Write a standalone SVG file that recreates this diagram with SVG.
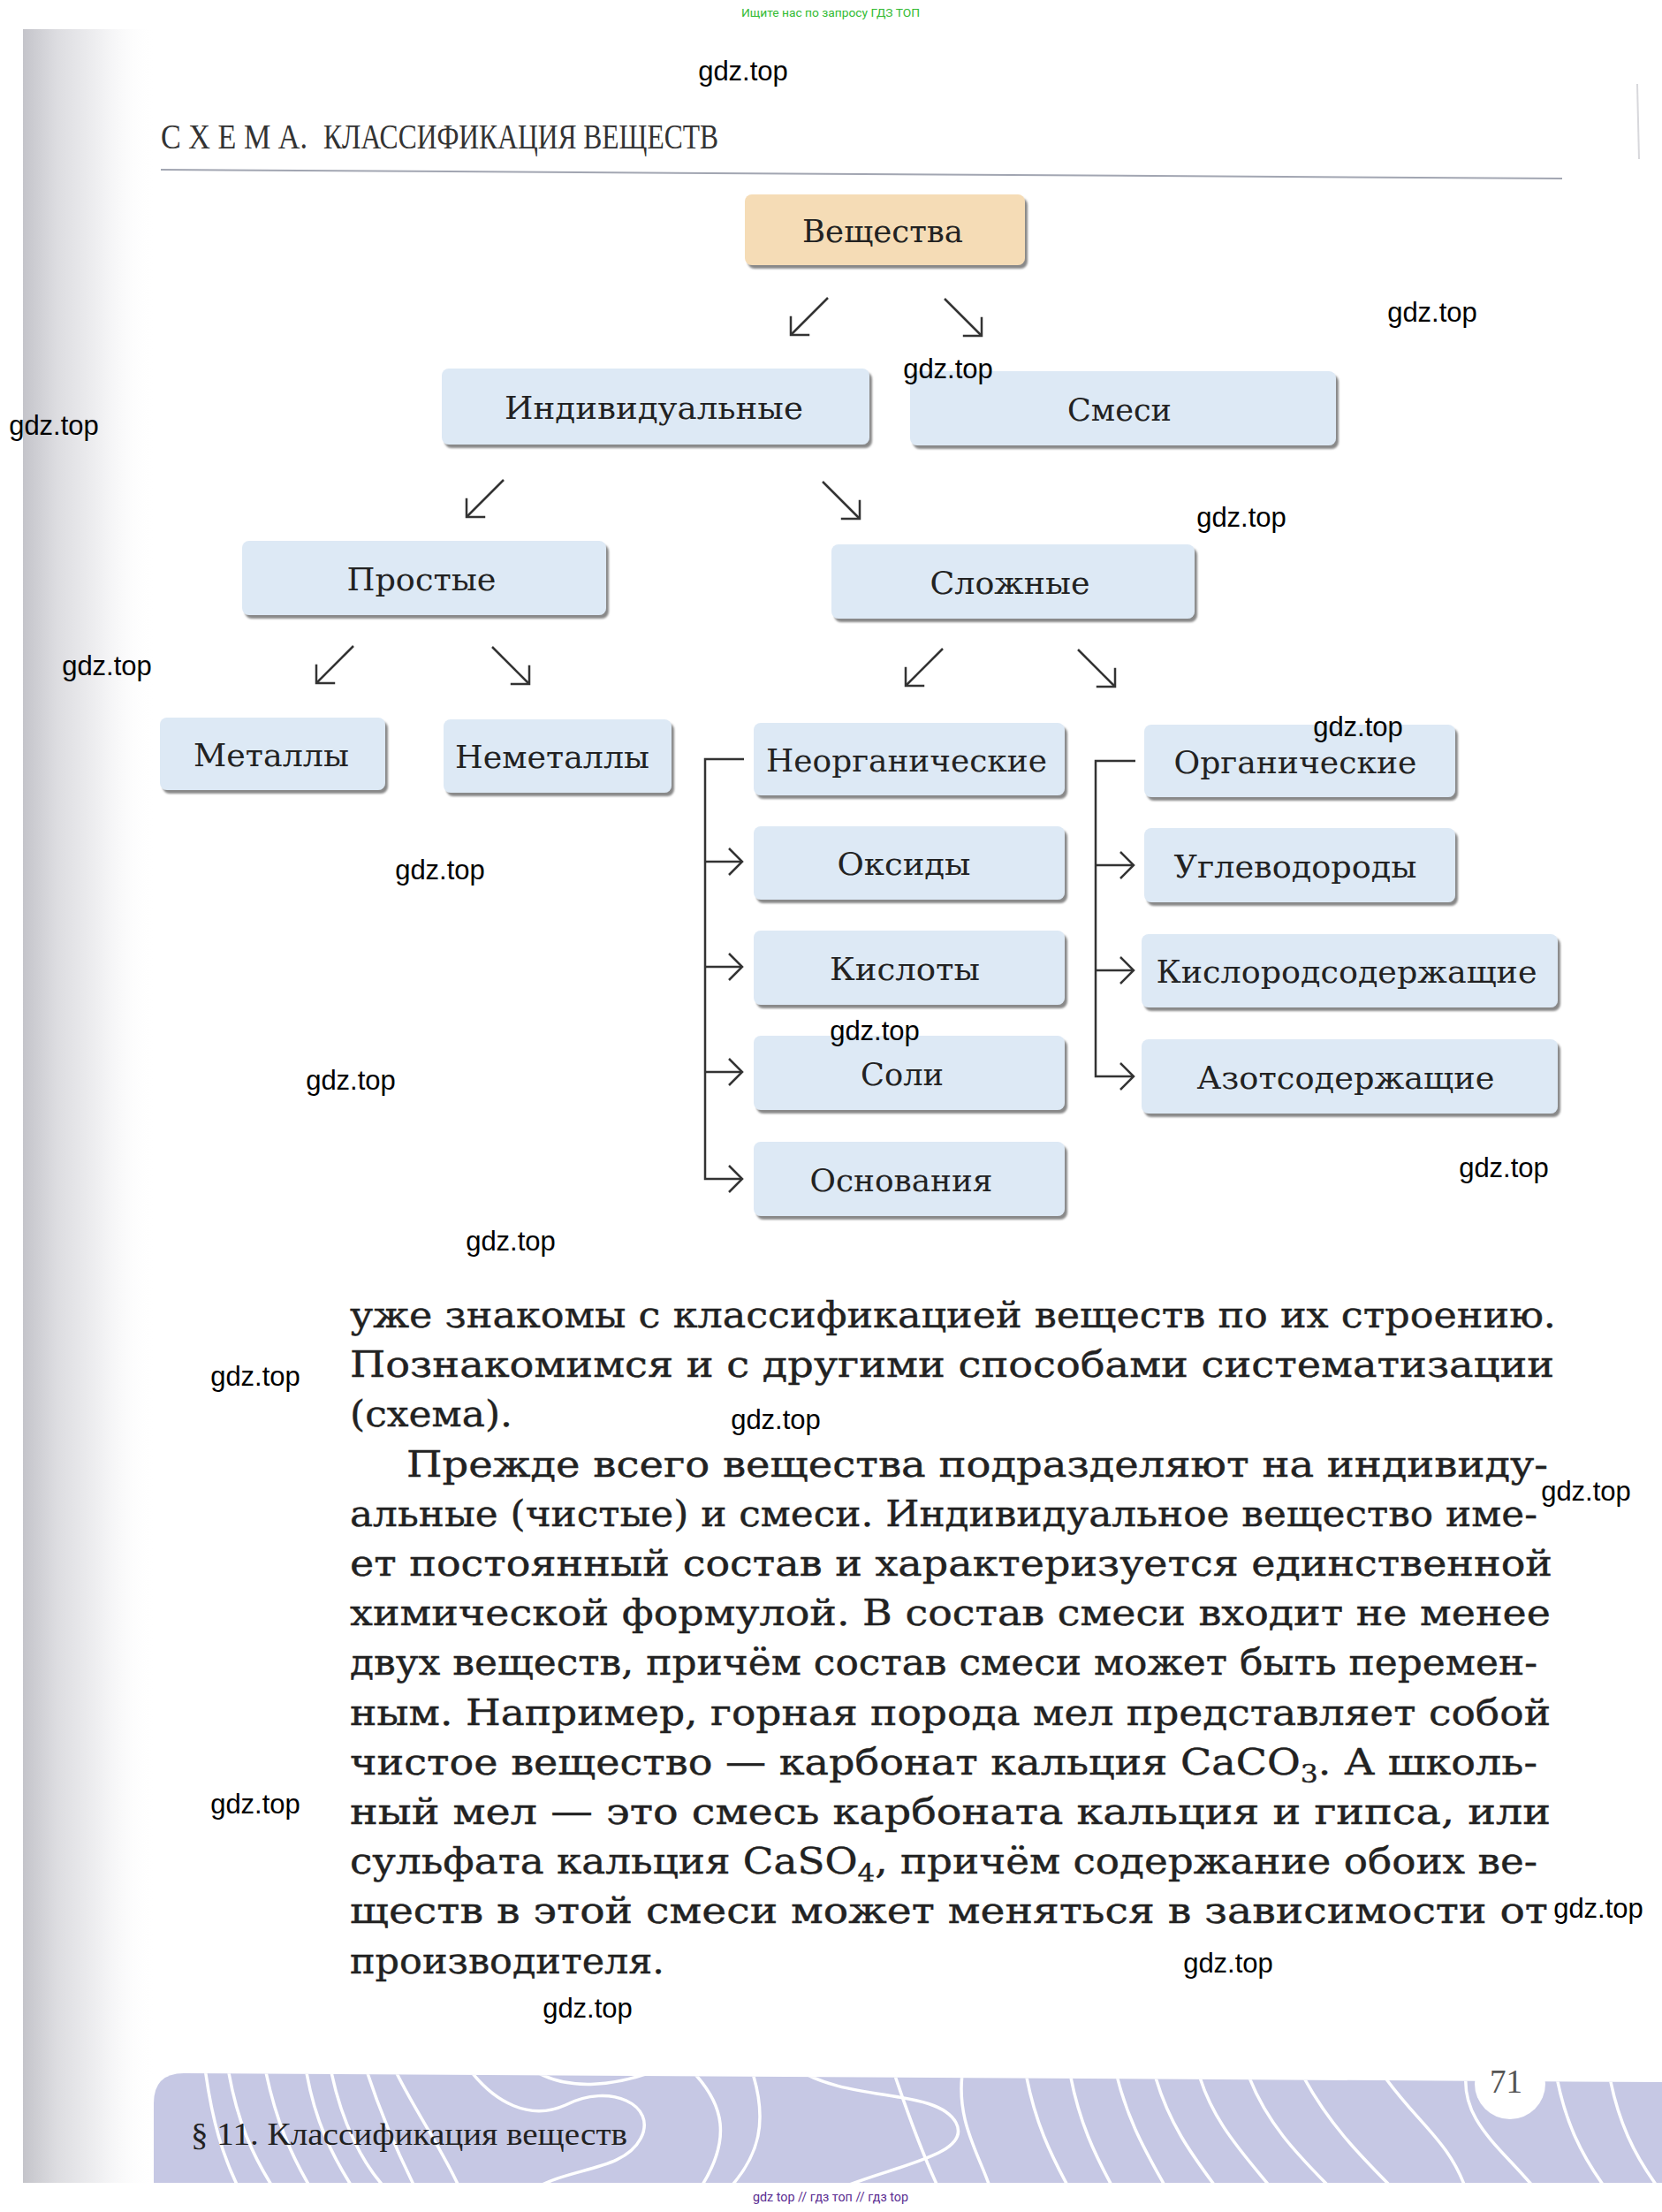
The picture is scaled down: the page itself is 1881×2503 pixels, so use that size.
<svg xmlns="http://www.w3.org/2000/svg" width="1881" height="2503" viewBox="0 0 1881 2503">
<defs>
<style>
.box{fill:#dde9f5;filter:url(#sh)}
.box0{fill:#f5dcb6;filter:url(#sh)}
.lbl{font-family:"DejaVu Serif","Liberation Serif",serif;font-size:36px;fill:#222;text-anchor:middle}
.body{font-family:"DejaVu Serif","Liberation Serif",serif;font-size:41px;fill:#222;stroke:#222;stroke-width:0.4}
.wm{font-family:"Liberation Sans",Arial,sans-serif;font-size:31px;fill:#000;text-anchor:middle}
.conn{stroke:#333;stroke-width:2.5;fill:none}
.wave{stroke:#fff;stroke-width:3.5;fill:none}
</style>
<filter id="sh" x="-5%" y="-10%" width="115%" height="130%">
<feDropShadow dx="3" dy="4" stdDeviation="1.3" flood-color="#6a6a6a" flood-opacity="0.8"/>
</filter>
<marker id="ah" markerUnits="userSpaceOnUse" markerWidth="40" markerHeight="40" viewBox="-20 -20 40 40" refX="0" refY="0" orient="auto" overflow="visible">
<path d="M-15,-15 L0,0 L-15,15" fill="none" stroke="#333" stroke-width="2.5"/>
</marker>
<linearGradient id="edge" x1="0" y1="0" x2="1" y2="0">
<stop offset="0" stop-color="#c4c4ca"/>
<stop offset="0.25" stop-color="#dcdce0"/>
<stop offset="0.6" stop-color="#f1f1f3"/>
<stop offset="1" stop-color="#ffffff" stop-opacity="0"/>
</linearGradient>
<clipPath id="bandclip"><path d="M174,2470 V2380 Q174,2346 208,2346 L1881,2356 V2470 Z"/></clipPath>
</defs>
<rect x="0" y="0" width="1881" height="2503" fill="#fff"/>
<rect x="26" y="33" width="150" height="2437" fill="url(#edge)"/>
<line x1="1853" y1="95" x2="1855" y2="180" stroke="#d8d8dc" stroke-width="2"/>

<text x="839" y="19" font-family="Roboto,'Liberation Sans',sans-serif" font-size="12" fill="#33bb33" textLength="202" lengthAdjust="spacingAndGlyphs">Ищите нас по запросу ГДЗ ТОП</text>

<g id="title">
<text x="182" y="168" font-family="'Liberation Serif',serif" font-size="39" fill="#333" textLength="166" lengthAdjust="spacingAndGlyphs">С Х Е М А.</text>
<text x="366" y="168" font-family="'Liberation Serif',serif" font-size="39" fill="#333" textLength="447" lengthAdjust="spacingAndGlyphs">КЛАССИФИКАЦИЯ ВЕЩЕСТВ</text>
<line x1="182" y1="192" x2="1768" y2="202" stroke="#a2a6b2" stroke-width="2"/>
</g>

<g id="connectors">
<path class="conn" d="M937,337 L895,379" marker-end="url(#ah)"/>
<path class="conn" d="M1069,338 L1111,380" marker-end="url(#ah)"/>
<path class="conn" d="M570,543 L528,585" marker-end="url(#ah)"/>
<path class="conn" d="M931,545 L973,587" marker-end="url(#ah)"/>
<path class="conn" d="M400,731 L358,773" marker-end="url(#ah)"/>
<path class="conn" d="M557,732 L599,774" marker-end="url(#ah)"/>
<path class="conn" d="M1067,734 L1025,776" marker-end="url(#ah)"/>
<path class="conn" d="M1220,735 L1262,777" marker-end="url(#ah)"/>
<path class="conn" d="M842,859 H798 V1334 H840" marker-end="url(#ah)"/>
<path class="conn" d="M798,975 H840" marker-end="url(#ah)"/>
<path class="conn" d="M798,1094 H840" marker-end="url(#ah)"/>
<path class="conn" d="M798,1213 H840" marker-end="url(#ah)"/>
<path class="conn" d="M1285,861 H1240 V1218 H1283" marker-end="url(#ah)"/>
<path class="conn" d="M1240,979 H1283" marker-end="url(#ah)"/>
<path class="conn" d="M1240,1098 H1283" marker-end="url(#ah)"/>
</g>

<g id="n-veshchestva"><rect class="box0" x="843" y="220" width="317" height="80" rx="8"/><text class="lbl" x="999" y="274" textLength="182" lengthAdjust="spacingAndGlyphs">Вещества</text></g>
<g id="n-individ"><rect class="box" x="500" y="417" width="484" height="86" rx="8"/><text class="lbl" x="740" y="474" textLength="338" lengthAdjust="spacingAndGlyphs">Индивидуальные</text></g>
<g id="n-smesi"><rect class="box" x="1030" y="420" width="482" height="84" rx="8"/><text class="lbl" x="1267" y="476" textLength="118" lengthAdjust="spacingAndGlyphs">Смеси</text></g>
<g id="n-prostye"><rect class="box" x="274" y="612" width="412" height="84" rx="8"/><text class="lbl" x="477" y="668" textLength="169" lengthAdjust="spacingAndGlyphs">Простые</text></g>
<g id="n-slozhnye"><rect class="box" x="941" y="616" width="411" height="84" rx="8"/><text class="lbl" x="1143" y="672" textLength="181" lengthAdjust="spacingAndGlyphs">Сложные</text></g>
<g id="n-metally"><rect class="box" x="181" y="812" width="255" height="82" rx="8"/><text class="lbl" x="307" y="867" textLength="176" lengthAdjust="spacingAndGlyphs">Металлы</text></g>
<g id="n-nemetally"><rect class="box" x="502" y="814" width="258" height="83" rx="8"/><text class="lbl" x="625" y="869" textLength="220" lengthAdjust="spacingAndGlyphs">Неметаллы</text></g>
<g id="n-neorg"><rect class="box" x="853" y="818" width="352" height="82" rx="8"/><text class="lbl" x="1026" y="873" textLength="318" lengthAdjust="spacingAndGlyphs">Неорганические</text></g>
<g id="n-org"><rect class="box" x="1295" y="820" width="352" height="82" rx="8"/><text class="lbl" x="1466" y="875" textLength="275" lengthAdjust="spacingAndGlyphs">Органические</text></g>
<g id="n-oksidy"><rect class="box" x="853" y="935" width="352" height="83" rx="8"/><text class="lbl" x="1023" y="990" textLength="151" lengthAdjust="spacingAndGlyphs">Оксиды</text></g>
<g id="n-uglevodorody"><rect class="box" x="1295" y="937" width="352" height="84" rx="8"/><text class="lbl" x="1466" y="993" textLength="275" lengthAdjust="spacingAndGlyphs">Углеводороды</text></g>
<g id="n-kisloty"><rect class="box" x="853" y="1053" width="352" height="84" rx="8"/><text class="lbl" x="1024" y="1109" textLength="170" lengthAdjust="spacingAndGlyphs">Кислоты</text></g>
<g id="n-kislorod"><rect class="box" x="1292" y="1057" width="471" height="83" rx="8"/><text class="lbl" x="1524" y="1112" textLength="431" lengthAdjust="spacingAndGlyphs">Кислородсодержащие</text></g>
<g id="n-soli"><rect class="box" x="853" y="1172" width="352" height="84" rx="8"/><text class="lbl" x="1021" y="1228" textLength="94" lengthAdjust="spacingAndGlyphs">Соли</text></g>
<g id="n-azot"><rect class="box" x="1292" y="1176" width="471" height="84" rx="8"/><text class="lbl" x="1523" y="1232" textLength="337" lengthAdjust="spacingAndGlyphs">Азотсодержащие</text></g>
<g id="n-osnovaniya"><rect class="box" x="853" y="1292" width="352" height="84" rx="8"/><text class="lbl" x="1020" y="1348" textLength="207" lengthAdjust="spacingAndGlyphs">Основания</text></g>

<g id="body-text">
<text class="body" x="396" y="1502" textLength="1365" lengthAdjust="spacingAndGlyphs">уже знакомы с классификацией веществ по их строению.</text>
<text class="body" x="396" y="1558" textLength="1363" lengthAdjust="spacingAndGlyphs">Познакомимся и с другими способами систематизации</text>
<text class="body" x="396" y="1614" textLength="184" lengthAdjust="spacingAndGlyphs">(схема).</text>
<text class="body" x="460" y="1671" textLength="1292" lengthAdjust="spacingAndGlyphs">Прежде всего вещества подразделяют на индивиду-</text>
<text class="body" x="396" y="1727" textLength="1344" lengthAdjust="spacingAndGlyphs">альные (чистые) и смеси. Индивидуальное вещество име-</text>
<text class="body" x="396" y="1783" textLength="1361" lengthAdjust="spacingAndGlyphs">ет постоянный состав и характеризуется единственной</text>
<text class="body" x="396" y="1839" textLength="1359" lengthAdjust="spacingAndGlyphs">химической формулой. В состав смеси входит не менее</text>
<text class="body" x="396" y="1895" textLength="1344" lengthAdjust="spacingAndGlyphs">двух веществ, причём состав смеси может быть перемен-</text>
<text class="body" x="396" y="1952" textLength="1359" lengthAdjust="spacingAndGlyphs">ным. Например, горная порода мел представляет собой</text>
<text class="body" x="396" y="2008" textLength="1344" lengthAdjust="spacingAndGlyphs">чистое вещество — карбонат кальция CaCO<tspan font-size="28" dy="9">3</tspan><tspan dy="-9">. А школь-</tspan></text>
<text class="body" x="396" y="2064" textLength="1359" lengthAdjust="spacingAndGlyphs">ный мел — это смесь карбоната кальция и гипса, или</text>
<text class="body" x="396" y="2120" textLength="1344" lengthAdjust="spacingAndGlyphs">сульфата кальция CaSO<tspan font-size="28" dy="9">4</tspan><tspan dy="-9">, причём содержание обоих ве-</tspan></text>
<text class="body" x="396" y="2176" textLength="1356" lengthAdjust="spacingAndGlyphs">ществ в этой смеси может меняться в зависимости от</text>
<text class="body" x="396" y="2233" textLength="356" lengthAdjust="spacingAndGlyphs">производителя.</text>
</g>

<g id="footer">
<path d="M174,2470 V2380 Q174,2346 208,2346 L1881,2356 V2470 Z" fill="#c6c8e4"/>
<g clip-path="url(#bandclip)">
<path class="wave" d="M232,2340 C240,2400 252,2440 272,2480"/>
<path class="wave" d="M258,2340 C268,2400 286,2440 312,2480"/>
<path class="wave" d="M300,2340 C312,2400 330,2440 354,2480"/>
<path class="wave" d="M346,2340 C356,2400 376,2440 402,2480"/>
<path class="wave" d="M374,2340 C386,2400 410,2450 440,2480"/>
<path class="wave" d="M414,2340 C430,2390 452,2440 472,2480"/>
<path class="wave" d="M446,2340 C470,2390 500,2430 522,2480"/>
<path class="wave" d="M530,2340 C560,2380 600,2400 640,2382 C690,2356 745,2382 725,2420 C705,2458 640,2452 600,2480"/>
<path class="wave" d="M600,2340 C640,2368 700,2362 760,2336"/>
<path class="wave" d="M780,2340 C820,2380 830,2420 790,2480"/>
<path class="wave" d="M850,2340 C870,2400 860,2440 822,2480"/>
<path class="wave" d="M900,2340 C960,2380 1060,2362 1082,2402 C1102,2440 1002,2452 942,2480"/>
<path class="wave" d="M1010,2340 C1030,2400 1045,2440 1064,2480"/>
<path class="wave" d="M1090,2340 C1080,2400 1110,2440 1122,2480"/>
<path class="wave" d="M1160,2340 C1170,2400 1190,2440 1212,2480"/>
<path class="wave" d="M1210,2340 C1220,2400 1240,2440 1262,2480"/>
<path class="wave" d="M1262,2340 C1275,2400 1300,2440 1322,2480"/>
<path class="wave" d="M1305,2340 C1320,2400 1350,2440 1380,2480"/>
<path class="wave" d="M1355,2340 C1370,2400 1410,2440 1442,2480"/>
<path class="wave" d="M1410,2340 C1430,2400 1470,2440 1510,2480"/>
<path class="wave" d="M1470,2340 C1500,2400 1540,2440 1580,2480"/>
<path class="wave" d="M1560,2340 C1600,2400 1640,2420 1660,2480"/>
<path class="wave" d="M1660,2340 C1650,2400 1700,2430 1740,2480"/>
<path class="wave" d="M1760,2340 C1770,2400 1790,2440 1820,2480"/>
<path class="wave" d="M1820,2340 C1830,2400 1850,2440 1880,2480"/>
</g>
<circle cx="1709" cy="2358" r="40" fill="#fff"/>
<text x="1686" y="2368" font-family="'Liberation Serif',serif" font-size="37" fill="#555" textLength="37" lengthAdjust="spacingAndGlyphs">71</text>
<text x="216" y="2427" font-family="'Liberation Serif',serif" font-size="35" fill="#222" textLength="494" lengthAdjust="spacingAndGlyphs">§ 11. Классификация веществ</text>
</g>

<g id="watermarks">
<text class="wm" x="841" y="91">gdz.top</text>
<text class="wm" x="1621" y="364">gdz.top</text>
<text class="wm" x="1073" y="428">gdz.top</text>
<text class="wm" x="61" y="492">gdz.top</text>
<text class="wm" x="1405" y="596">gdz.top</text>
<text class="wm" x="121" y="764">gdz.top</text>
<text class="wm" x="1537" y="833">gdz.top</text>
<text class="wm" x="498" y="995">gdz.top</text>
<text class="wm" x="990" y="1177">gdz.top</text>
<text class="wm" x="397" y="1233">gdz.top</text>
<text class="wm" x="1702" y="1332">gdz.top</text>
<text class="wm" x="578" y="1415">gdz.top</text>
<text class="wm" x="289" y="1568">gdz.top</text>
<text class="wm" x="878" y="1617">gdz.top</text>
<text class="wm" x="1795" y="1698">gdz.top</text>
<text class="wm" x="289" y="2052">gdz.top</text>
<text class="wm" x="1809" y="2170">gdz.top</text>
<text class="wm" x="1390" y="2232">gdz.top</text>
<text class="wm" x="665" y="2283">gdz.top</text>
</g>

<text x="852" y="2491" font-family="Roboto,'Liberation Sans',sans-serif" font-size="15" fill="#5a2d91" textLength="176" lengthAdjust="spacingAndGlyphs">gdz top // гдз топ // гдз top</text>
</svg>
